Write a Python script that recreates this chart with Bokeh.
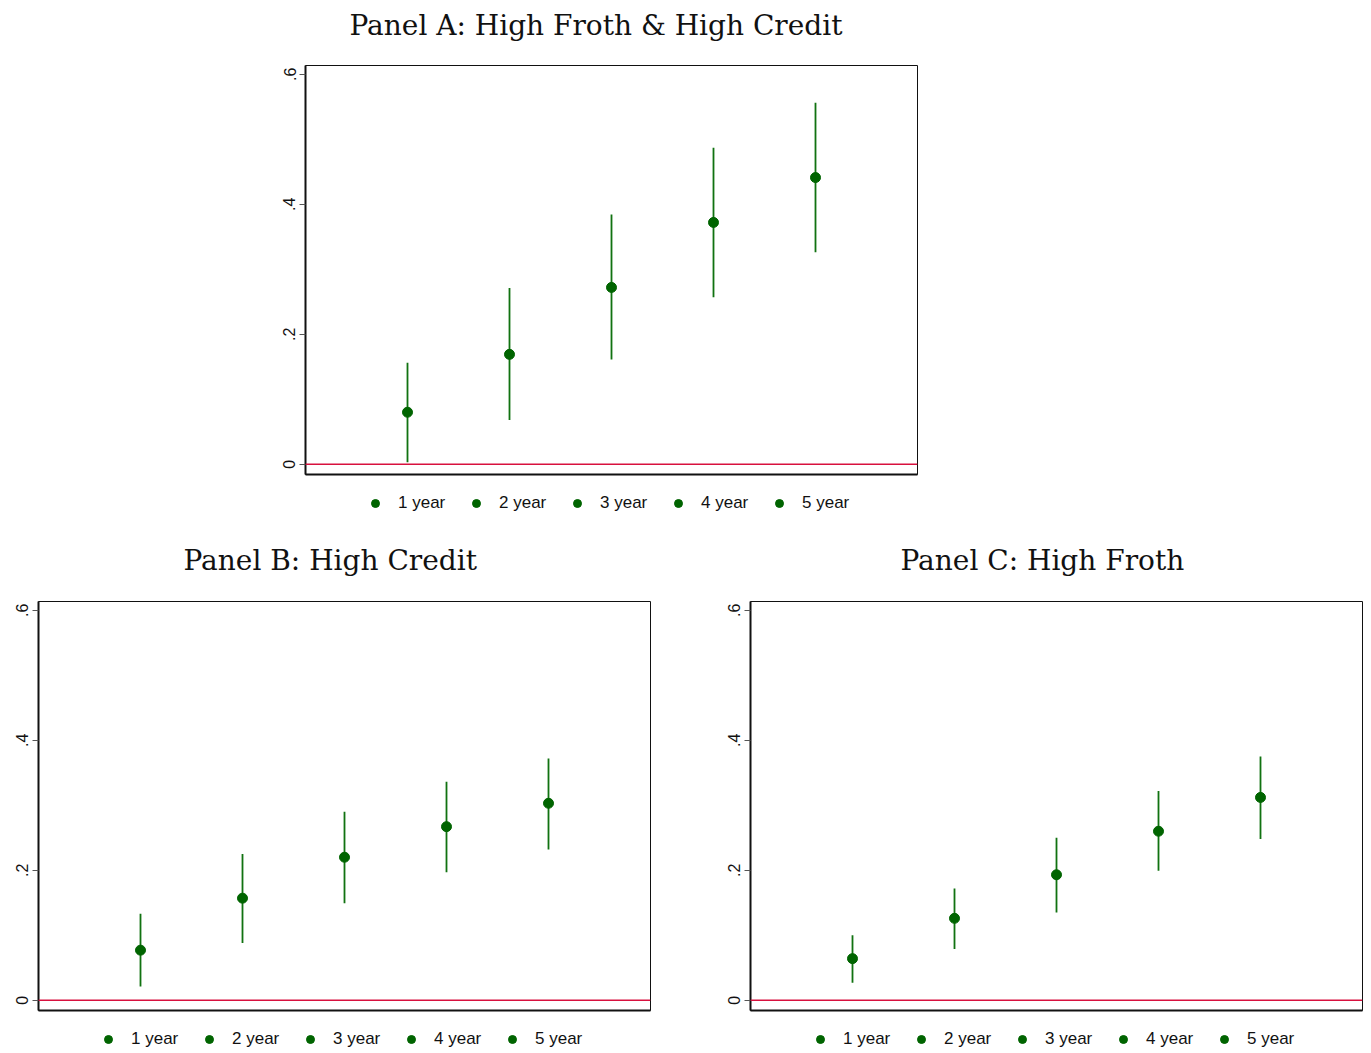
from bokeh.plotting import figure
from bokeh.layouts import column, row
from bokeh.models import (Range1d, FixedTicker, CustomJSTickFormatter, Span, Legend,
                          LegendItem, Spacer, Title)
from bokeh.embed import file_html
from bokeh.resources import INLINE

# ---------------- data ----------------
horizons = [1, 2, 3, 4, 5]
horizon_labels = ["1 year", "2 year", "3 year", "4 year", "5 year"]

a_coef = [0.080, 0.169, 0.272, 0.372, 0.441]
a_lo = [0.003, 0.068, 0.161, 0.257, 0.326]
a_hi = [0.156, 0.271, 0.384, 0.487, 0.556]

b_coef = [0.077, 0.157, 0.220, 0.267, 0.303]
b_lo = [0.021, 0.088, 0.149, 0.197, 0.232]
b_hi = [0.133, 0.225, 0.290, 0.336, 0.372]

c_coef = [0.064, 0.126, 0.193, 0.260, 0.312]
c_lo = [0.027, 0.079, 0.135, 0.199, 0.248]
c_hi = [0.100, 0.172, 0.250, 0.322, 0.375]

y_ticks = [0.0, 0.2, 0.4, 0.6]
y_tick_labels = ["0", ".2", ".4", ".6"]

titles = ["Panel A: High Froth & High Credit", "Panel B: High Credit", "Panel C: High Froth"]

# ---------------- style ----------------
MARKER = "#006400"
CI_LINE = "#117211"
ZERO = "#D8103E"
SANS = "Liberation Sans"
SERIF = "DejaVu Serif"
W = 643


def style_title(t, text, shift, standoff):
    t.text = text
    t.text_font = SERIF
    t.text_font_size = "28px"
    t.text_font_style = "normal"
    t.text_color = "#111111"
    t.align = "left"
    t.offset = shift
    t.standoff = standoff


def make_panel(title, title_shift, coef, lo, hi, height, border_top, legend_height, legend_y,
               title_strip=0):
    p = figure(width=W, height=height, x_range=Range1d(0, 6),
               y_range=Range1d(-0.0158, 0.6134),
               output_backend="svg", toolbar_location=None,
               title=None if title_strip else "",
               min_border_left=30, min_border_right=1,
               min_border_top=border_top, min_border_bottom=4)
    p.xgrid.visible = False
    p.ygrid.visible = False
    p.outline_line_color = "#111111"
    p.outline_line_width = 1
    if not title_strip:
        style_title(p.title, title, title_shift, 49)

    # x axis: line only
    p.xaxis.ticker = FixedTicker(ticks=[])
    p.xaxis.major_label_text_font_size = "0px"
    p.xaxis.major_tick_line_color = None
    p.xaxis.minor_tick_line_color = None
    p.xaxis.major_tick_out = 0
    p.xaxis.major_tick_in = 0
    p.xaxis.major_label_standoff = 0
    p.xaxis.axis_line_width = 2
    p.xaxis.axis_line_color = "#111111"

    # y axis
    p.yaxis.ticker = FixedTicker(ticks=y_ticks)
    p.yaxis.formatter = CustomJSTickFormatter(
        args=dict(vals=y_ticks, labs=y_tick_labels),
        code="const i = vals.findIndex(v => Math.abs(v - tick) < 1e-9); return i >= 0 ? labs[i] : '';")
    p.yaxis.major_label_orientation = "vertical"
    p.yaxis.major_label_text_font = SANS
    p.yaxis.major_label_text_font_size = "16px"
    p.yaxis.major_label_text_color = "#111111"
    p.yaxis.major_label_standoff = 4
    p.yaxis.major_tick_out = 6
    p.yaxis.major_tick_in = 0
    p.yaxis.major_tick_line_color = "#555555"
    p.yaxis.minor_tick_line_color = None
    p.yaxis.axis_line_width = 2
    p.yaxis.axis_line_color = "#111111"

    p.add_layout(Span(location=0, dimension="width", line_color=ZERO, line_width=1.6))

    p.segment(x0=horizons, y0=lo, x1=horizons, y1=hi, line_color=CI_LINE, line_width=1.8)
    for h, c in zip(horizons, coef):
        p.scatter(x=[h], y=[c], size=10, marker="circle",
                  fill_color=MARKER, line_color=MARKER)

    # legend strip below the plot (same series styling; points kept out of view)
    lf = figure(width=W, height=legend_height, x_range=Range1d(0, 6), y_range=Range1d(5, 6),
                output_backend="svg", toolbar_location=None,
                x_axis_type=None, y_axis_type=None,
                min_border_left=30, min_border_right=1, min_border_top=0, min_border_bottom=0)
    lf.xgrid.visible = False
    lf.ygrid.visible = False
    lf.outline_line_color = None
    items = []
    for h, c, lab in zip(horizons, coef, horizon_labels):
        r = lf.scatter(x=[h], y=[c], size=10, marker="circle",
                       fill_color=MARKER, line_color=MARKER)
        items.append(LegendItem(label=lab, renderers=[r]))
    leg = Legend(items=items, location=(60, legend_y), orientation="horizontal",
                 label_text_font=SANS, label_text_font_size="17px",
                 label_text_color="#111111",
                 border_line_color=None, background_fill_alpha=0,
                 padding=0, margin=0, spacing=20, glyph_width=20, glyph_height=20,
                 label_standoff=13, label_width=48, label_height=20)
    lf.add_layout(leg)

    parts = [p, lf]
    if title_strip:
        tf = figure(width=W, height=title_strip, x_range=Range1d(0, 6), y_range=Range1d(5, 6),
                    output_backend="svg", toolbar_location=None,
                    x_axis_type=None, y_axis_type=None,
                    min_border_left=30, min_border_right=1, min_border_top=0, min_border_bottom=0)
        tf.xgrid.visible = False
        tf.ygrid.visible = False
        tf.outline_line_color = None
        style_title(tf.title, title, title_shift, 13)
        parts = [tf] + parts
    return column(*parts)


pA = make_panel(titles[0], 44, a_coef, a_lo, a_hi, 414, 1, 36, 1, title_strip=64)
pB = make_panel(titles[1], 145, b_coef, b_lo, b_hi, 500, 87, 39, 4)
pC = make_panel(titles[2], 150, c_coef, c_lo, c_hi, 500, 87, 39, 4)

layout = column(
    row(Spacer(width=275, height=514), pA),
    row(Spacer(width=8, height=539), pB, Spacer(width=69, height=539), pC),
)

open("out.html", "w").write(file_html(layout, INLINE))
